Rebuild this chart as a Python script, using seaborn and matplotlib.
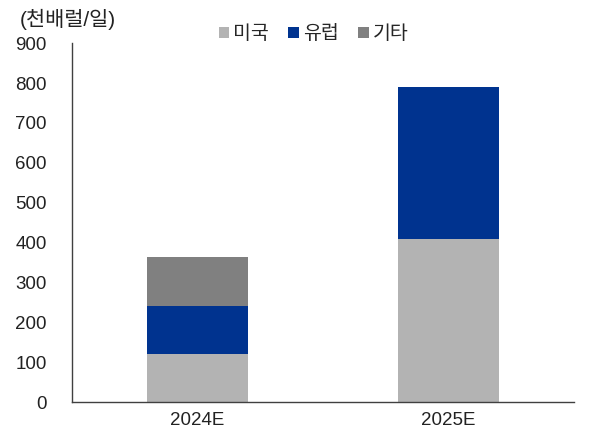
import numpy as np
import pandas as pd
import matplotlib
matplotlib.use("Agg")
import matplotlib.pyplot as plt
from matplotlib.patches import Patch
import seaborn as sns

# data (천배럴/일)
years = ["2024E", "2025E"]
us = [120, 408]
europe = [121, 382]
other = [122, 0]

series_names = ["미국", "유럽", "기타"]
colors = ["#b3b3b3", "#00338f", "#808080"]

sns.set_style("white")
plt.rcParams['font.family'] = ['Liberation Sans', 'Noto Sans CJK KR', 'DejaVu Sans']

df = pd.DataFrame({"year": years, "미국": us, "유럽": europe, "기타": other})
# cumulative tops for stacking
df["c1"] = df["미국"]
df["c2"] = df["c1"] + df["유럽"]
df["c3"] = df["c2"] + df["기타"]

fig = plt.figure(figsize=(6.15, 4.41), dpi=100)
ax = fig.add_axes([0.117, 0.088, 0.816, 0.814])

# draw tallest layer first so lower layers cover it
for col, color in zip(["c3", "c2", "c1"], colors[::-1]):
    sns.barplot(data=df, x="year", y=col, color=color, width=0.4,
                saturation=1, ax=ax, linewidth=0)

ax.set_ylim(0, 900)
ax.set_xlim(-0.5, 1.5)
ax.set_yticks(np.arange(0, 901, 100))
ax.set_xlabel("")
ax.set_ylabel("")

for s in ["top", "right"]:
    ax.spines[s].set_visible(False)
for s in ["left", "bottom"]:
    ax.spines[s].set_color("#404040")
    ax.spines[s].set_linewidth(1)

ax.tick_params(axis="y", direction="in", length=4, labelsize=13.5, colors="#222222", pad=18)
ax.tick_params(axis="x", length=0, labelsize=13.5, colors="#222222", pad=7)
# minor ticks between categories on the x axis
ax.set_xticks([-0.5, 0.5, 1.5], minor=True)
ax.tick_params(axis="x", which="minor", direction="in", length=4, color="#404040")

fig.text(0.032, 0.955, "(천배럴/일)", fontsize=15, color="#222222", va="center")

handles = [Patch(facecolor=c, edgecolor="none") for c in colors]
fig.legend(handles, series_names, loc="center", bbox_to_anchor=(0.51, 0.922),
           ncol=3, frameon=False, fontsize=14, handlelength=0.55, handleheight=0.55,
           handletextpad=0.2, columnspacing=1.0)

fig.savefig("out.png", dpi=100)
